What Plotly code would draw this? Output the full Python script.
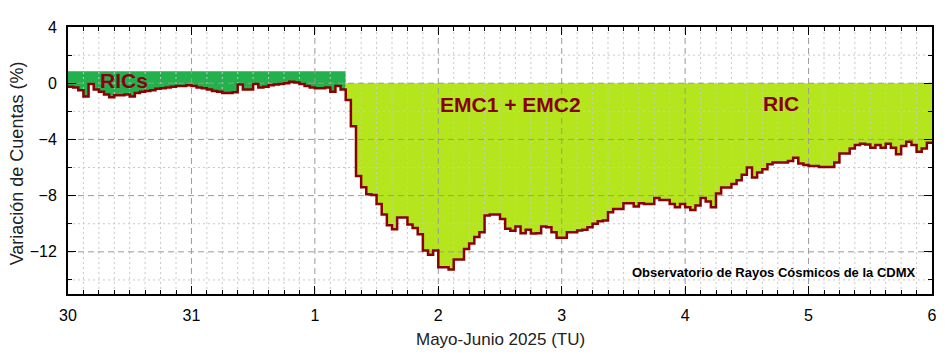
import pandas as pd
import plotly.graph_objects as go

# ---------------- data (hourly % variation, UT) ----------------
start = "2025-05-30 00:00"
may30 = [-0.25, -0.3, -0.5, -0.95, -0.05, -0.45, -0.6, -0.8, -1.0, -0.85, -0.85, -0.8,
         -0.95, -0.7, -0.6, -0.55, -0.5, -0.4, -0.35, -0.3, -0.25, -0.2, -0.2, -0.15]
may31 = [-0.2, -0.3, -0.35, -0.45, -0.55, -0.6, -0.7, -0.7, -0.65, -0.1, -0.45, -0.45,
         -0.05, -0.3, -0.25, -0.15, -0.1, -0.05, 0.0, 0.1, 0.05, -0.05, -0.2, -0.3]
jun1 = [-0.35, -0.35, -0.3, -0.6, -0.2, -0.45, -1.2, -3.06, -6.6, -7.4, -7.9, -7.95,
        -8.6, -9.35, -10.1, -10.4, -9.55, -9.55, -10.05, -10.3, -10.75, -11.9, -12.2, -11.9]
jun2 = [-13.1, -13.1, -13.25, -12.55, -12.55, -11.8, -11.4, -10.95, -10.6, -9.42, -9.35, -9.35,
        -9.66, -10.36, -10.5, -10.2, -10.67, -10.43, -10.7, -10.67, -10.2, -10.25, -10.6, -11.0]
jun3 = [-11.0, -10.6, -10.6, -10.48, -10.43, -10.25, -10.0, -9.82, -9.77, -9.19, -8.95, -8.95,
        -8.55, -8.55, -8.78, -8.55, -8.6, -8.6, -8.17, -8.31, -8.31, -8.6, -8.83, -8.6]
jun4 = [-8.83, -9.02, -8.71, -8.17, -8.41, -8.83, -7.84, -7.42, -7.42, -7.18, -6.9, -6.52,
        -6.0, -6.71, -6.36, -6.12, -5.77, -5.65, -5.65, -5.65, -5.53, -5.3, -5.72, -5.82]
jun5 = [-5.89, -5.89, -5.96, -5.96, -5.96, -5.65, -5.0, -5.0, -4.64, -4.4, -4.31, -4.36,
        -4.59, -4.4, -4.59, -4.31, -4.59, -5.06, -4.47, -4.17, -4.4, -4.88, -4.64, -4.24]

day_labels = ["30", "31", "1", "2", "3", "4", "5", "6"]
y_ticks = [4, 0, -4, -8, -12]
ric_split_hour = 54      # onset of the Forbush decrease (end of "RICs" zone)
rics_level = 0.85        # top of the RICs band

values = may30 + may31 + jun1 + jun2 + jun3 + jun4 + jun5
n = len(values)
times = pd.date_range(start, periods=n + 1, freq="h")
vals_ext = values + [values[-1]]
day_ticks = pd.date_range(start, periods=len(day_labels), freq="D")

# ---------------- styles ----------------
RED = "#8B0000"
TXT_RED = "#880015"
GREEN = "#22B14C"
LIME = "#B5E61D"
FONT = "Liberation Sans, Arial, sans-serif"

fig = go.Figure()

# RICs band (green) : from band top down to the curve
fig.add_trace(go.Scatter(x=[times[0], times[ric_split_hour]], y=[rics_level, rics_level],
                         mode="lines", line=dict(width=0, color=GREEN), hoverinfo="skip",
                         showlegend=False))
fig.add_trace(go.Scatter(x=times[:ric_split_hour + 1],
                         y=values[:ric_split_hour] + [values[ric_split_hour - 1]],
                         mode="lines", line=dict(width=0, shape="hv", color=GREEN),
                         fill="tonexty", fillcolor=GREEN, hoverinfo="skip", showlegend=False))

# EMC / RIC zone (lime) : from zero down to the curve
fig.add_trace(go.Scatter(x=[times[ric_split_hour], times[n]], y=[0, 0],
                         mode="lines", line=dict(width=0, color=LIME), hoverinfo="skip",
                         showlegend=False))
fig.add_trace(go.Scatter(x=times[ric_split_hour:],
                         y=vals_ext[ric_split_hour:],
                         mode="lines", line=dict(width=0, shape="hv", color=LIME),
                         fill="tonexty", fillcolor=LIME, hoverinfo="skip", showlegend=False))

# grid drawn above the fills
x_minor = [t for t in pd.date_range(start, periods=n // 3 + 1, freq="3h")
           if t.hour != 0]
x_major = list(day_ticks[1:-1])
y_major = [v for v in y_ticks if v != 4]
y_minor = [2, -2, -6, -10, -14]
y0, y1 = -15, 4


def vlines(xs):
    xx, yy = [], []
    for x in xs:
        xx += [x, x, None]
        yy += [y0, y1, None]
    return xx, yy


def hlines(ys):
    xx, yy = [], []
    for y in ys:
        xx += [times[0], times[n], None]
        yy += [y, y, None]
    return xx, yy


mx, my = vlines(x_minor)
hx, hy = hlines(y_minor)
fig.add_trace(go.Scatter(x=mx + hx, y=my + hy, mode="lines",
                         line=dict(color="#c8c8c8", width=1, dash="2px,3px"),
                         hoverinfo="skip", showlegend=False))
Mx, My = vlines(x_major)
Hx, Hy = hlines(y_major)
fig.add_trace(go.Scatter(x=Mx + Hx, y=My + Hy, mode="lines",
                         line=dict(color="#9a9a9a", width=1, dash="6px,4px"),
                         hoverinfo="skip", showlegend=False))

# the step curve
fig.add_trace(go.Scatter(x=times, y=vals_ext, mode="lines",
                         line=dict(color=RED, width=2.5, shape="hv"),
                         showlegend=False))

axis_common = dict(showline=True, linecolor="black", linewidth=2, mirror="allticks",
                   ticks="inside", ticklen=8, tickwidth=1, tickcolor="black",
                   showgrid=False, zeroline=False,
                   tickfont=dict(family=FONT, size=16, color="black"))

fig.update_xaxes(range=[times[0], times[n]], tickvals=list(day_ticks), ticktext=day_labels,
                 minor=dict(dtick=3 * 3600 * 1000, tick0=start, ticks="inside", ticklen=4,
                            tickcolor="black", showgrid=False),
                 ticklabelstandoff=6, **axis_common)
fig.update_yaxes(range=[y0, y1], tickvals=y_ticks,
                 ticktext=[str(v).replace("-", "\u2212") for v in y_ticks],
                 minor=dict(dtick=2, tick0=0, ticks="inside", ticklen=4,
                            tickcolor="black", showgrid=False),
                 ticklabelstandoff=6, **axis_common)

ann = [
    dict(text="<b>RICs</b>", x=0.0647, y=0.801, font=dict(size=21, color=TXT_RED)),
    dict(text="<b>EMC1 + EMC2</b>", x=0.512, y=0.708, font=dict(size=21, color=TXT_RED)),
    dict(text="<b>RIC</b>", x=0.825, y=0.715, font=dict(size=21, color=TXT_RED)),
]
for a in ann:
    a.update(xref="paper", yref="paper", showarrow=False, xanchor="center", yanchor="middle")
    a["font"]["family"] = FONT
ann.append(dict(text="<b>Observatorio de Rayos Cósmicos de la CDMX</b>", xref="paper",
                yref="paper", x=0.984, y=0.079, xanchor="right", yanchor="middle",
                showarrow=False, font=dict(family=FONT, size=13, color="black")))
ann.append(dict(text="Mayo-Junio 2025 (TU)", xref="paper", yref="paper", x=0.5, y=-0.172,
                xanchor="center", yanchor="middle", showarrow=False,
                font=dict(family=FONT, size=17, color="#222")))
ann.append(dict(text="Variación de Cuentas (%)", xref="paper", yref="paper", x=-0.0588,
                y=0.49, xanchor="center", yanchor="middle", textangle=-90, showarrow=False,
                font=dict(family=FONT, size=18, color="#222")))

fig.update_layout(width=949, height=354, margin=dict(l=68, r=14, t=27, b=60),
                  paper_bgcolor="white", plot_bgcolor="white", annotations=ann,
                  hovermode=False)

fig.write_html("out.html")
